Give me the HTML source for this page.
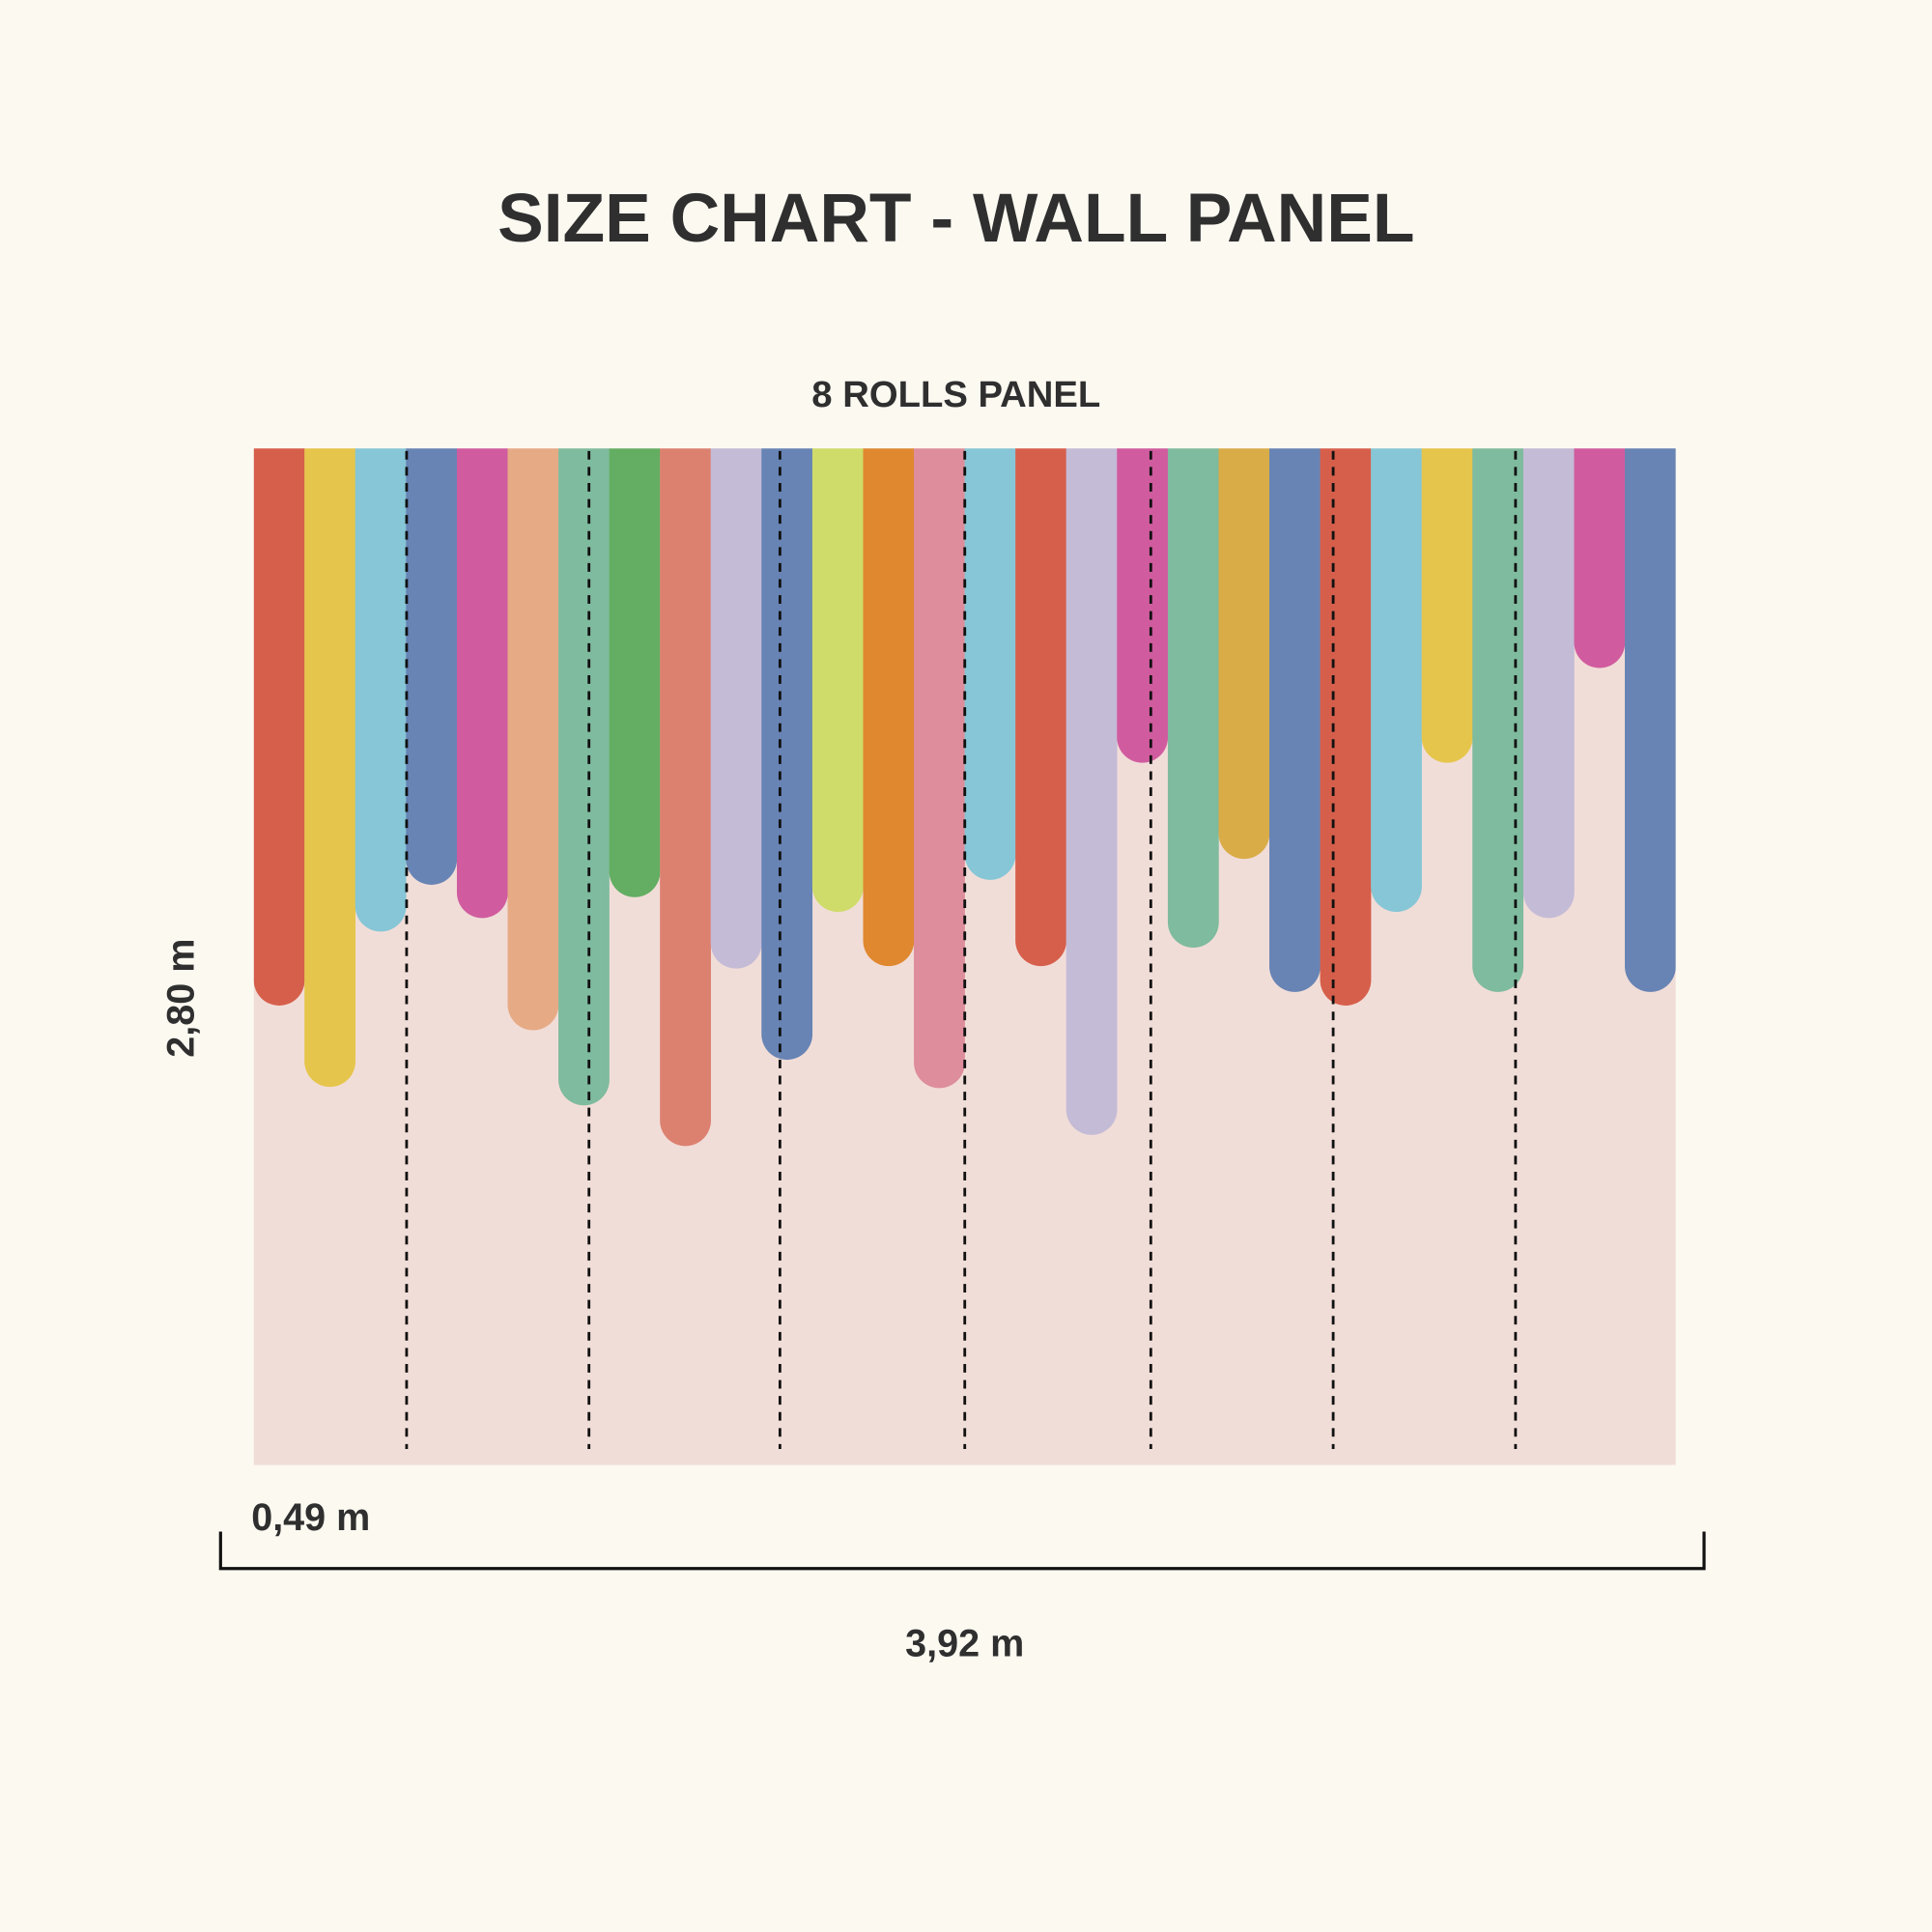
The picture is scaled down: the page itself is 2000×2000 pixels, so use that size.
<!DOCTYPE html>
<html><head><meta charset="utf-8"><style>
html,body{margin:0;padding:0;background:#fcf9f1;}
svg{display:block}
text{font-family:"Liberation Sans",sans-serif;font-weight:bold;fill:#2f2f2f}
</style></head><body>
<svg width="2000" height="2000" viewBox="0 0 1568 1568" xmlns="http://www.w3.org/2000/svg">
<defs><clipPath id="cp"><rect x="206" y="364" width="1154" height="825"/></clipPath></defs>
<rect width="1568" height="1568" fill="#fcf9f1"/>
<text x="776" y="196" font-size="56" text-anchor="middle">SIZE CHART - WALL PANEL</text>
<text x="776" y="330" font-size="30" text-anchor="middle">8 ROLLS PANEL</text>
<rect x="206" y="364" width="1154" height="825" fill="#f1ddd8"/>
<g clip-path="url(#cp)" stroke-width="41.4" stroke-linecap="round">
<line x1="226.6" y1="330" x2="226.6" y2="795.4" stroke="#d65f4b"/>
<line x1="267.8" y1="330" x2="267.8" y2="861.4" stroke="#e6c54c"/>
<line x1="309.0" y1="330" x2="309.0" y2="735.4" stroke="#86c6d6"/>
<line x1="350.2" y1="330" x2="350.2" y2="697.4" stroke="#6784b4"/>
<line x1="391.5" y1="330" x2="391.5" y2="724.4" stroke="#d05c9f"/>
<line x1="432.7" y1="330" x2="432.7" y2="815.4" stroke="#e6aa85"/>
<line x1="473.9" y1="330" x2="473.9" y2="876.4" stroke="#7fbb9e"/>
<line x1="515.1" y1="330" x2="515.1" y2="707.4" stroke="#63ae62"/>
<line x1="556.3" y1="330" x2="556.3" y2="909.4" stroke="#dc8170"/>
<line x1="597.5" y1="330" x2="597.5" y2="765.4" stroke="#c4bbd6"/>
<line x1="638.7" y1="330" x2="638.7" y2="839.4" stroke="#6784b4"/>
<line x1="680.0" y1="330" x2="680.0" y2="719.4" stroke="#cfdc6a"/>
<line x1="721.2" y1="330" x2="721.2" y2="763.4" stroke="#df8830"/>
<line x1="762.4" y1="330" x2="762.4" y2="862.4" stroke="#dd8d9b"/>
<line x1="803.6" y1="330" x2="803.6" y2="693.4" stroke="#86c6d6"/>
<line x1="844.8" y1="330" x2="844.8" y2="763.4" stroke="#d65f4b"/>
<line x1="886.0" y1="330" x2="886.0" y2="900.4" stroke="#c4bbd6"/>
<line x1="927.2" y1="330" x2="927.2" y2="598.4" stroke="#d05c9f"/>
<line x1="968.5" y1="330" x2="968.5" y2="748.4" stroke="#7fbb9e"/>
<line x1="1009.7" y1="330" x2="1009.7" y2="676.4" stroke="#d9ac48"/>
<line x1="1050.9" y1="330" x2="1050.9" y2="784.4" stroke="#6784b4"/>
<line x1="1092.1" y1="330" x2="1092.1" y2="795.4" stroke="#d65f4b"/>
<line x1="1133.3" y1="330" x2="1133.3" y2="719.4" stroke="#86c6d6"/>
<line x1="1174.5" y1="330" x2="1174.5" y2="598.4" stroke="#e6c54c"/>
<line x1="1215.7" y1="330" x2="1215.7" y2="784.4" stroke="#7fbb9e"/>
<line x1="1257.0" y1="330" x2="1257.0" y2="724.4" stroke="#c4bbd6"/>
<line x1="1298.2" y1="330" x2="1298.2" y2="521.4" stroke="#d05c9f"/>
<line x1="1339.4" y1="330" x2="1339.4" y2="784.4" stroke="#6784b4"/>
</g>
<g stroke="#111" stroke-width="2.2" stroke-dasharray="7,6">
<line x1="330" y1="366" x2="330" y2="1176"/>
<line x1="478" y1="366" x2="478" y2="1176"/>
<line x1="633" y1="366" x2="633" y2="1176"/>
<line x1="783" y1="366" x2="783" y2="1176"/>
<line x1="934" y1="366" x2="934" y2="1176"/>
<line x1="1082" y1="366" x2="1082" y2="1176"/>
<line x1="1230" y1="366" x2="1230" y2="1176"/>
</g>
<text x="0" y="0" font-size="31" text-anchor="middle" transform="translate(157,810) rotate(-90)">2,80 m</text>
<text x="204" y="1242" font-size="31">0,49 m</text>
<path d="M179 1243 V1273 H1383 V1243" fill="none" stroke="#111" stroke-width="2.5"/>
<text x="783" y="1344" font-size="31" text-anchor="middle">3,92 m</text>
</svg>
</body></html>
